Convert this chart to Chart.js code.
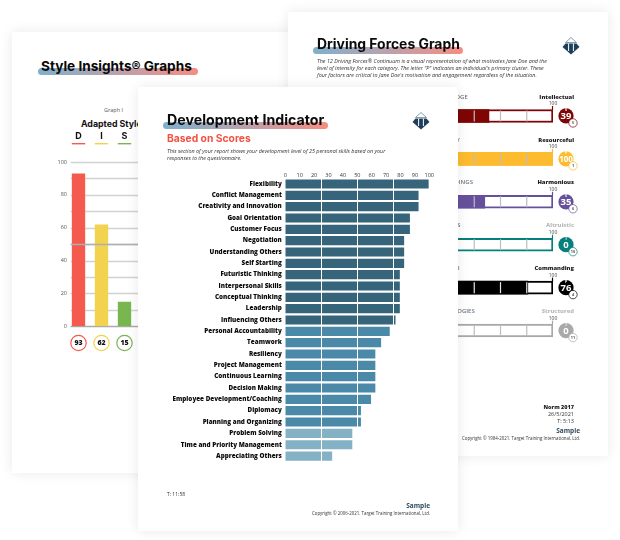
<!DOCTYPE html>
<html>
<head>
<meta charset="utf-8">
<title>Report pages</title>
<script src="https://cdn.jsdelivr.net/npm/chart.js@4"></script>
<style>
html, body { margin: 0; padding: 0; background: #fff; }
body { width: 620px; height: 540px; overflow: hidden; position: relative; font-family: "Open Sans", sans-serif; color: #222; }
.layer { position: absolute; left: 0; top: 0; width: 620px; height: 540px; }
.sheet { position: absolute; background: #fff; box-shadow: 0 0 12px rgba(0, 0, 0, 0.09); }
.t { position: absolute; white-space: nowrap; line-height: 1; }
.title { font-family: Inter, sans-serif; font-weight: 700; color: #0a0a0a; }
.stroke { position: absolute; border-radius: 4px; background: linear-gradient(90deg, #7fb0cb, #b5a4b0 45%, #f68d83); }
.note { font-style: italic; font-size: 5.4px; color: #333; }
canvas { position: absolute; }
svg { position: absolute; }
</style>
</head>
<body>

<div class="layer" id="left">
  <div class="sheet" style="left:12px;top:32px;width:320px;height:441px"></div>
  <div class="stroke" style="left:38px;top:68px;width:160px;height:7px"></div>
  <div class="t title" style="left:41px;top:60px;font-size:13.6px">Style Insights® Graphs</div>
  <div class="t" style="left:104px;top:108px;font-size:5.5px;color:#555">Graph I</div>
  <div class="t" style="left:81px;top:120px;font-size:8.8px;font-family:Inter,sans-serif;font-weight:700;color:#111">Adapted Style</div>
  <canvas id="styleChart" width="240" height="230" style="left:40px;top:125px"></canvas>
</div>

<div class="layer" id="right">
  <div class="sheet" style="left:288px;top:12px;width:320px;height:444px"></div>
  <div class="stroke" style="left:313px;top:47px;width:150px;height:7px"></div>
  <div class="t title" style="left:317px;top:38px;font-size:13.9px">Driving Forces Graph</div>
  <svg style="left:562px;top:37px" width="18" height="18" viewBox="0 0 18 18"><use href="#logo"/></svg>
  <div class="t note" style="left:317px;top:58px;line-height:7.2px">The 12 Driving Forces® Continuum is a visual representation of what motivates  Jane Doe and the<br>level of intensity for each category.  The letter "P" indicates an individual's primary cluster.  These<br>four factors are critical to  Jane Doe's motivation and engagement regardless of the situation.</div>
  <canvas id="driverChart" width="200" height="270" style="left:400px;top:85px"></canvas>
  <div class="t" style="right:46px;top:405px;font-size:5.5px;font-weight:800;color:#222">Norm 2017</div>
  <div class="t" style="right:46px;top:412px;font-size:5.5px;color:#333">26/5/2021</div>
  <div class="t" style="right:46px;top:419px;font-size:5.5px;color:#333">T: 5:13</div>
  <div class="t" style="right:40px;top:428px;font-size:6.5px;font-weight:700;color:#2e4a5e">Sample</div>
  <div class="t" style="right:40px;top:436px;font-size:4.4px;color:#333">Copyright © 1984-2021. Target Training International, Ltd.</div>
</div>

<div class="layer" id="main">
  <div class="sheet" style="left:138px;top:87px;width:320px;height:444px"></div>
  <div class="stroke" style="left:163px;top:122px;width:165px;height:7px"></div>
  <div class="t title" style="left:167px;top:113px;font-size:14.2px">Development Indicator</div>
  <svg style="left:412px;top:112px" width="18" height="18" viewBox="0 0 18 18">
    <g id="logo">
      <path d="M9 0.5 L14.5 5.5 L3.5 5.5 Z" fill="none" stroke="#7a93a3" stroke-width="0.9"/>
      <path d="M9 17.5 L0.5 10 L3.5 6.5 L14.5 6.5 L17.5 10 Z" fill="#1e3f5a"/>
      <path d="M6.6 6.5 V14 M11.4 6.5 V14" stroke="#fff" stroke-width="1"/>
    </g>
  </svg>
  <div class="t" style="left:167px;top:133px;font-size:10.3px;font-weight:700;font-family:Inter,sans-serif;color:#f4503f">Based on Scores</div>
  <div class="t note" style="left:167px;top:148px;line-height:7px">This section of your report shows your development level of 25 personal skills based on your<br>responses to the questionnaire.</div>
  <canvas id="skillChart" width="300" height="301" style="left:140px;top:168px"></canvas>
  <div class="t" style="left:167px;top:492px;font-size:5px;color:#333">T: 11:58</div>
  <div class="t" style="right:190px;top:503px;font-size:6.5px;font-weight:700;color:#2e4a5e">Sample</div>
  <div class="t" style="right:190px;top:511px;font-size:4.4px;color:#333">Copyright © 2006-2021. Target Training International, Ltd.</div>
</div>

<script>
// Development Indicator
const skillLabels = ['Flexibility', 'Conflict Management', 'Creativity and Innovation', 'Goal Orientation', 'Customer Focus',
    'Negotiation', 'Understanding Others', 'Self Starting', 'Futuristic Thinking', 'Interpersonal Skills',
    'Conceptual Thinking', 'Leadership', 'Influencing Others', 'Personal Accountability', 'Teamwork',
    'Resiliency', 'Project Management', 'Continuous Learning', 'Decision Making', 'Employee Development/Coaching',
    'Diplomacy', 'Planning and Organizing', 'Problem Solving', 'Time and Priority Management', 'Appreciating Others'];
const skillValues = [100, 93, 93, 87, 87, 83, 83, 83, 80, 80, 80, 80, 77, 73, 67, 63, 63, 63, 63, 60, 53, 53, 47, 47, 33];
const skillTicks = [0, 10, 20, 30, 40, 50, 60, 70, 80, 90, 100];
const skillMarks = [25, 50, 75];

// Style Insights
const styleLabels = ['D', 'I', 'S', 'C'];
const styleValues = [93, 62, 15, null];
const styleColors = ['#f55a4e', '#f2d24e', '#79b650', '#3f8fd0'];

// Driving Forces
const driverLeft = ['KNOWLEDGE', 'UTILITY', 'SURROUNDINGS', 'OTHERS', 'POWER', 'METHODOLOGIES'];
const driverRight = ['Intellectual', 'Resourceful', 'Harmonious', 'Altruistic', 'Commanding', 'Structured'];
const driverValues = [39, 100, 35, 0, 76, 0];
const driverRanks = [5, 1, 6, 10, 4, 11];
const driverCluster = ['S', 'P', 'S', 'I', 'P', 'I'];
const driverColors = ['#7f0505', '#fdbb2f', '#66509c', '#05807c', '#000000', '#a9a9a9'];
const driverMuted = [false, false, false, true, false, true];
const driverFrame = [100, 100, 100, 100, 100, 100];

const sans = '"Open Sans", sans-serif';

function skillColor(v) {
    if (v >= 75) return '#36647a';
    if (v >= 50) return '#4b89a9';
    return '#85b1c5';
}

new Chart(document.getElementById('skillChart'), {
    type: 'bar',
    data: {
        labels: skillLabels,
        datasets: [{
            data: skillValues,
            backgroundColor: skillValues.map(skillColor),
            borderColor: 'rgba(255,255,255,0.35)',
            borderWidth: 1,
            barThickness: 10.5
        }]
    },
    options: {
        indexAxis: 'y',
        responsive: false,
        animation: false,
        layout: { padding: { right: 10.7, bottom: 1.6 } },
        plugins: { legend: { display: false }, tooltip: { enabled: false } },
        scales: {
            x: {
                position: 'top',
                min: 0,
                max: 100,
                afterBuildTicks: s => { s.ticks = skillTicks.map(v => ({ value: v })); },
                afterFit: s => { s.height = 10.3; },
                grid: { display: false, drawTicks: false },
                border: { display: false },
                ticks: { padding: 0, maxRotation: 0, font: { size: 5.5, family: sans }, color: '#333' }
            },
            y: {
                afterFit: s => { s.width = 145.3; },
                grid: { display: false, drawTicks: false },
                border: { display: false },
                ticks: { autoSkip: false, padding: 3.5, font: { size: 6.3, weight: 800, family: sans }, color: '#0c0c0c' }
            }
        }
    },
    plugins: [{
        id: 'skillMarks',
        afterDatasetsDraw(chart) {
            const { ctx, chartArea, scales } = chart;
            ctx.save();
            ctx.strokeStyle = '#fff';
            ctx.lineWidth = 1;
            skillMarks.forEach(v => {
                const x = Math.round(scales.x.getPixelForValue(v)) + 0.5;
                ctx.beginPath();
                ctx.moveTo(x, chartArea.top);
                ctx.lineTo(x, chartArea.bottom);
                ctx.stroke();
            });
            ctx.restore();
        }
    }]
});

new Chart(document.getElementById('styleChart'), {
    type: 'bar',
    data: {
        labels: styleLabels,
        datasets: [{
            data: styleValues,
            backgroundColor: styleColors,
            barPercentage: 0.58,
            categoryPercentage: 1
        }]
    },
    options: {
        responsive: false,
        animation: false,
        layout: { padding: { right: 121, bottom: 28.7 } },
        plugins: { legend: { display: false }, tooltip: { enabled: false } },
        scales: {
            x: {
                position: 'top',
                afterFit: s => { s.height = 37; },
                grid: { display: false, drawTicks: false },
                border: { display: false },
                ticks: { padding: 20, font: { size: 9, weight: 700, family: 'Inter, sans-serif' }, color: '#111' }
            },
            y: {
                min: 0,
                max: 100,
                afterFit: s => { s.width = 27; },
                grid: { display: false, drawTicks: false },
                border: { display: false },
                ticks: {
                    stepSize: 10,
                    padding: 0,
                    callback: v => (v % 20 === 0 ? v : ''),
                    font: { size: 5.5, family: sans },
                    color: '#555'
                }
            }
        }
    },
    plugins: [{
        id: 'styleExtras',
        beforeDatasetsDraw(chart) {
            const { ctx, chartArea, scales } = chart;
            ctx.save();
            scales.y.ticks.forEach(t => {
                const y = Math.round(scales.y.getPixelForValue(t.value)) + 0.5;
                ctx.strokeStyle = t.value === 0 ? '#aaa' : '#d2d2d2';
                ctx.lineWidth = 1.4;
                ctx.beginPath();
                ctx.moveTo(chartArea.left + 3.7, y);
                ctx.lineTo(chartArea.right, y);
                ctx.stroke();
            });
            ctx.restore();
        },
        afterDatasetsDraw(chart) {
            const { ctx, chartArea, scales } = chart;
            ctx.save();
            const mid = Math.round(scales.y.getPixelForValue(50)) + 0.5;
            ctx.strokeStyle = '#adb0b2';
            ctx.lineWidth = 1.6;
            ctx.beginPath();
            ctx.moveTo(chartArea.left + 3.7, mid);
            ctx.lineTo(chartArea.right, mid);
            ctx.stroke();
            styleLabels.forEach((label, i) => {
                const x = scales.x.getPixelForValue(i);
                ctx.fillStyle = styleColors[i];
                ctx.fillRect(x - 6.7, chartArea.top - 19, 13.4, 1.4);
                if (styleValues[i] === null) return;
                ctx.beginPath();
                ctx.arc(x, chartArea.bottom + 16.7, 7.7, 0, Math.PI * 2);
                ctx.fillStyle = '#fff';
                ctx.fill();
                ctx.lineWidth = 1.2;
                ctx.strokeStyle = styleColors[i];
                ctx.stroke();
                ctx.fillStyle = '#111';
                ctx.font = '800 7px ' + sans;
                ctx.textAlign = 'center';
                ctx.textBaseline = 'middle';
                ctx.fillText(styleValues[i], x, chartArea.bottom + 17);
            });
            ctx.restore();
        }
    }]
});

new Chart(document.getElementById('driverChart'), {
    type: 'bar',
    data: {
        labels: driverRight,
        datasets: [{
            data: driverValues,
            backgroundColor: driverColors,
            barThickness: 13,
            order: 1
        }, {
            data: driverFrame,
            backgroundColor: '#fff',
            borderColor: driverColors,
            borderWidth: 2,
            barThickness: 13,
            order: 2
        }]
    },
    options: {
        indexAxis: 'y',
        responsive: false,
        animation: false,
        layout: { padding: { left: 48, right: 47, top: 9.5, bottom: 3 } },
        plugins: { legend: { display: false }, tooltip: { enabled: false } },
        scales: {
            x: { display: false, min: 0, max: 100 },
            y: { display: false, stacked: true }
        }
    },
    plugins: [{
        id: 'driverExtras',
        afterDatasetsDraw(chart) {
            const { ctx, scales } = chart;
            const end = scales.x.getPixelForValue(100);
            ctx.save();
            ctx.textBaseline = 'middle';
            driverRight.forEach((name, i) => {
                const y = scales.y.getPixelForValue(i);
                const color = driverColors[i];

                ctx.strokeStyle = i === 4 ? '#e6e6e6' : '#bdbdbd';
                ctx.lineWidth = 1.2;
                [25, 50, 75].forEach(v => {
                    const x = scales.x.getPixelForValue(v);
                    ctx.beginPath();
                    ctx.moveTo(x, y - 5.5);
                    ctx.lineTo(x, y + 5.5);
                    ctx.stroke();
                });
                ctx.strokeStyle = color;
                ctx.lineWidth = 1.2;
                ctx.beginPath();
                ctx.moveTo(end - 0.5, y - 10);
                ctx.lineTo(end - 0.5, y - 6);
                ctx.stroke();

                ctx.fillStyle = '#444';
                ctx.font = '5px ' + sans;
                ctx.textAlign = 'center';
                ctx.fillText('100', end, y - 12);

                ctx.fillStyle = '#6a7680';
                ctx.font = '600 6px ' + sans;
                ctx.fillText(driverLeft[i], 49, y - 19);

                ctx.textAlign = 'right';
                ctx.fillStyle = driverMuted[i] ? '#bcbcbc' : '#222';
                ctx.font = '800 5.8px ' + sans;
                ctx.fillText(name, 174, y - 19);

                // value badge
                ctx.beginPath();
                ctx.arc(end + 13, y, 7.6, 0, Math.PI * 2);
                ctx.fillStyle = color;
                ctx.fill();
                ctx.fillStyle = '#fff';
                ctx.textAlign = 'center';
                ctx.font = '700 ' + (driverValues[i] === 100 ? 8 : 9.5) + 'px ' + sans;
                ctx.fillText(driverValues[i], end + 13, y + 0.7);
                ctx.font = '700 3.5px ' + sans;
                ctx.fillText(driverCluster[i], end + 13, y - 5.5);

                // rank ring
                ctx.beginPath();
                ctx.arc(end + 20, y + 7, 4.2, 0, Math.PI * 2);
                ctx.fillStyle = '#fff';
                ctx.fill();
                ctx.lineWidth = 1;
                ctx.strokeStyle = color;
                ctx.globalAlpha = 0.7;
                ctx.stroke();
                ctx.globalAlpha = 1;
                ctx.fillStyle = '#555';
                ctx.font = '700 3.8px ' + sans;
                ctx.fillText(driverRanks[i], end + 20, y + 7.2);
            });
            ctx.restore();
        }
    }]
});
</script>
</body>
</html>
